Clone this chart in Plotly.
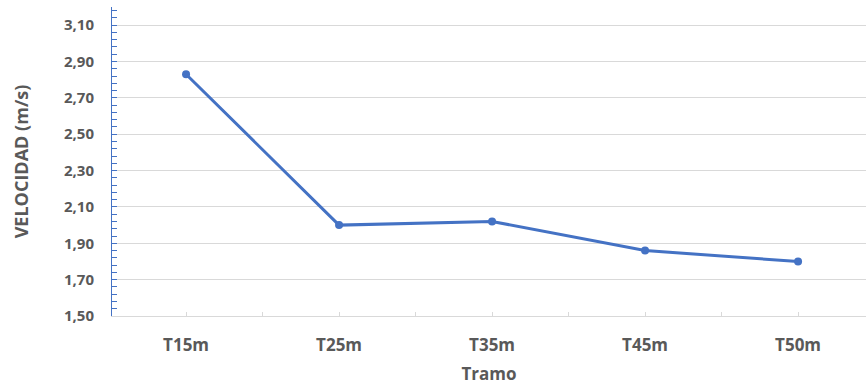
import plotly.graph_objects as go

# Velocidad media por tramo
tramos = ["T15m", "T25m", "T35m", "T45m", "T50m"]
velocidad = [2.83, 2.00, 2.02, 1.86, 1.80]
y_ticks = [1.50, 1.70, 1.90, 2.10, 2.30, 2.50, 2.70, 2.90, 3.10]

blue = "#4472C4"
grid = "#D9D9D9"
text_color = "#595959"
font_family = "Open Sans"

idx = list(range(len(tramos)))

fig = go.Figure()
fig.add_trace(go.Scatter(
    x=idx, y=velocidad, mode="lines+markers",
    line=dict(color=blue, width=3),
    marker=dict(color=blue, size=8),
    hoverinfo="skip",
))

fig.update_layout(
    width=866, height=385,
    margin=dict(l=112, r=0, t=7, b=69),
    paper_bgcolor="white", plot_bgcolor="white",
    showlegend=False,
    separators=",.",
    font=dict(family=font_family, color=text_color),
)

fig.update_xaxes(
    range=[-0.484, 4.444],
    tickmode="array", tickvals=idx, ticktext=[f"<b>{t}</b>" for t in tramos],
    tickfont=dict(size=17, family=font_family, color=text_color),
    showgrid=False, zeroline=False,
    showline=True, linecolor=grid, linewidth=1,
    ticks="inside", ticklen=4, tickcolor=grid,
    minor=dict(dtick=0.5, tick0=0.5, ticks="inside", ticklen=4, tickcolor=grid),
    title=dict(text="<b>Tramo</b>", font=dict(size=17, family=font_family, color=text_color), standoff=12),
    ticklabelstandoff=14,
)

fig.update_yaxes(
    range=[1.5, 3.2],
    tickmode="array", tickvals=y_ticks,
    ticktext=[f"<b>{v:.2f}</b>".replace(".", ",") for v in y_ticks],
    tickfont=dict(size=15, family=font_family, color=text_color),
    showgrid=True, gridcolor=grid, gridwidth=1,
    zeroline=False,
    showline=True, linecolor=blue, linewidth=1,
    ticks="inside", ticklen=5, tickcolor=blue,
    minor=dict(dtick=0.04, tick0=1.5, ticks="inside", ticklen=5, tickcolor=blue, showgrid=False),
    title=dict(text="<b>VELOCIDAD (m/s)</b>", font=dict(size=18, family=font_family, color=text_color), standoff=30),
    ticklabelstandoff=14,
)

fig.write_html("out.html")
